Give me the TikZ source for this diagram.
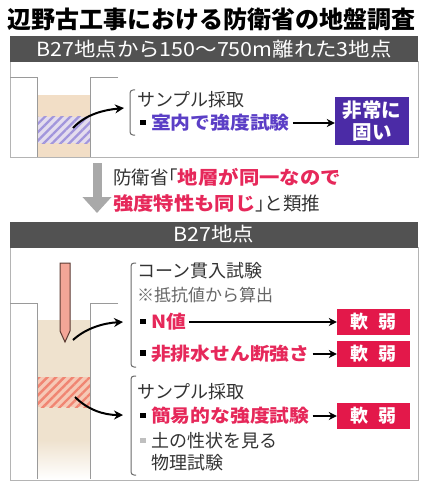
\documentclass[tikz,border=0pt]{standalone}
\usepackage{fontspec}
\setmainfont{Noto Sans CJK JP}
\newfontfamily\widefont[FakeStretch=1.1]{Noto Sans CJK JP}
\usetikzlibrary{arrows.meta,patterns.meta}

\definecolor{hdrgray}{HTML}{525252}
\definecolor{boxline}{HTML}{B4B4B4}
\definecolor{pitgray}{HTML}{9A9A9A}
\definecolor{txtgray}{HTML}{333333}
\definecolor{notegray}{HTML}{666666}
\definecolor{brkgray}{HTML}{6A6A6A}
\definecolor{violetbox}{HTML}{4B2BA6}
\definecolor{violettxt}{HTML}{5B3FC6}
\definecolor{violethatch}{HTML}{A296DC}
\definecolor{violetbg}{HTML}{E4DDEE}
\definecolor{crimson}{HTML}{E3184A}
\definecolor{redtxt}{HTML}{E6285A}
\definecolor{sand}{HTML}{EFE2CE}
\definecolor{peach}{HTML}{F2DEC6}
\definecolor{salmonhatch}{HTML}{F08572}
\definecolor{salmonbg}{HTML}{F6C9B6}
\definecolor{rodfill}{HTML}{F3A697}
\definecolor{rodline}{HTML}{5C3B33}
\definecolor{arrowgray}{HTML}{A9A9A9}

% small square bullet in front of a test name
\newcommand{\sqdot}[1][black]{\textcolor{#1}{\raisebox{0.27em}{\rule{0.3em}{0.3em}}}\hspace{0.3em}}
% wide bold words in colour
\newcommand{\hl}[2]{\textcolor{#1}{\widefont\bfseries #2}}
% half-width corner brackets
\newcommand{\lqb}{\makebox[0.5em][r]{「}}
\newcommand{\rqb}{\makebox[0.5em][l]{」}}

\begin{document}
\begin{tikzpicture}[x=1pt,y=-1pt,
  txt/.style={anchor=west,inner sep=0pt,text=txtgray,font=\fontsize{18}{21}\selectfont},
  bar/.style={fill=hdrgray,text=white,minimum width=408pt,minimum height=26pt,inner sep=0pt,font=\fontsize{19.5}{21}\selectfont\widefont},
  panel/.style={draw=boxline,line width=1pt},
  pit/.style={draw=pitgray,line width=0.9pt},
  pick/.style={-{Stealth[length=9pt,width=9pt]},line width=2pt,black},
  res/.style={-{Stealth[length=8pt,width=8pt]},line width=1.8pt,black},
  soft/.style={fill=crimson,text=white,minimum width=73pt,minimum height=26pt,inner sep=0pt,font=\fontsize{18}{20}\selectfont\bfseries},
  brk/.style={draw=brkgray,line width=1pt,rounded corners=3pt},
]
\useasboundingbox (0,0) rectangle (423,484);

\node[inner sep=0pt,font=\fontsize{24}{26}\selectfont\bfseries,text=black] (title) at (211.5,19) {辺野古工事における防衛省の地盤調査};

%% upper panel: three points away from B27
\draw[panel] (10,62) rectangle (418,157);
\node[bar] (hdr1) at (214,49) {B27地点から150～750m離れた3地点};

\fill[peach] (37,95) rectangle (90,157);
\fill[violetbg] (37,117) rectangle (90,143);
\fill[pattern={Lines[angle=45,distance=6pt,line width=2.2pt]},pattern color=violethatch] (37,117) rectangle (90,143);
\draw[pit] (10,77) -- (37,77) -- (37,157);
\draw[pit] (118,77) -- (90,77) -- (90,157);

\coordinate (core1) at (73,128);
\coordinate (brk1) at (124,108);
\draw[brk] (135,90) -- (130,90) -- (130,135) -- (135,135);
\draw[pick] (core1) .. controls (86,114) and (104,110) .. (brk1);

\node[txt] (smp1) at (137,100) {サンプル採取};
\node[txt] (lab1) at (140,123) {\sqdot\hl{violettxt}{室内で強度試験}};
\node[fill=violetbox,text=white,minimum width=74pt,minimum height=48pt,inner sep=0pt,align=center,
  font=\fontsize{19.5}{22}\selectfont\bfseries] (hard) at (372,121) {非常に\\固い};
\draw[res] ([xshift=3pt]lab1.east) -- (lab1.east -| hard.west);

%% inference
\coordinate (upper) at (97,163);
\coordinate (lower) at (97,213);
\draw[arrowgray,line width=9pt,-{Triangle[length=16pt,width=28pt]}] (upper) -- (lower);
\node[txt,align=left,font=\fontsize{18.5}{26}\selectfont] (infer) at (113,190)
  {防衛省\lqb\hl{redtxt}{地層が同一なので}\\\hl{redtxt}{強度特性も同じ}\rqb と類推};

%% lower panel: B27
\draw[panel] (10,247) rectangle (418,480);
\node[bar] (hdr2) at (214,234.5) {B27地点};

\fill[sand] (37,320) rectangle (90,440);
\shade[top color=sand,bottom color=white] (37,440) rectangle (90,479);
\fill[salmonbg] (37,377) rectangle (90,407);
\fill[pattern={Lines[angle=45,distance=6pt,line width=2.4pt]},pattern color=salmonhatch] (37,377) rectangle (90,407);
\draw[pit] (10,303) -- (37,303) -- (37,479);
\draw[pit] (118,303) -- (90,303) -- (90,479);
\filldraw[fill=rodfill,draw=rodline,line width=1pt] (60,263) -- (70,263) -- (70,331) -- (65,342) -- (60,331) -- cycle;

\coordinate (tip) at (73,340);
\coordinate (brk2) at (123,322);
\coordinate (core2) at (75,397);
\coordinate (brk3) at (123,415);
\draw[brk] (136,263) -- (131,263) -- (131,367) -- (136,367);
\draw[brk] (136,376) -- (131,376) -- (131,475) -- (136,475);
\draw[pick] (tip) .. controls (86,328) and (104,323) .. (brk2);
\draw[pick] (core2) .. controls (88,410) and (104,415) .. (brk3);

\node[txt] (cone) at (137,271) {コーン貫入試験};
\node[txt,text=notegray,font=\fontsize{17}{20}\selectfont] (note) at (137,295) {※抵抗値から算出};
\node[txt] (nval) at (140,322) {\sqdot\hl{redtxt}{N値}};
\node[txt] (shear) at (140,354) {\sqdot\hl{redtxt}{非排水せん断強さ}};
\node[txt] (smp2) at (137,392) {サンプル採取};
\node[txt] (simple) at (140,416) {\sqdot\hl{redtxt}{簡易的な強度試験}};
\node[txt] (phys) at (140,441) {\sqdot[lightgray]土の性状を見る};
\node[txt] (phys2) at (151,463) {物理試験};

\node[soft] (soft1) at (373.5,322) {軟\hspace{0.6em}弱};
\node[soft] (soft2) at (373.5,354) {軟\hspace{0.6em}弱};
\node[soft] (soft3) at (373.5,416) {軟\hspace{0.6em}弱};
\draw[res] ([xshift=3pt]nval.east) -- (nval.east -| soft1.west);
\draw[res] ([xshift=3pt]shear.east) -- (shear.east -| soft2.west);
\draw[res] ([xshift=3pt]simple.east) -- (simple.east -| soft3.west);
\end{tikzpicture}
\end{document}
